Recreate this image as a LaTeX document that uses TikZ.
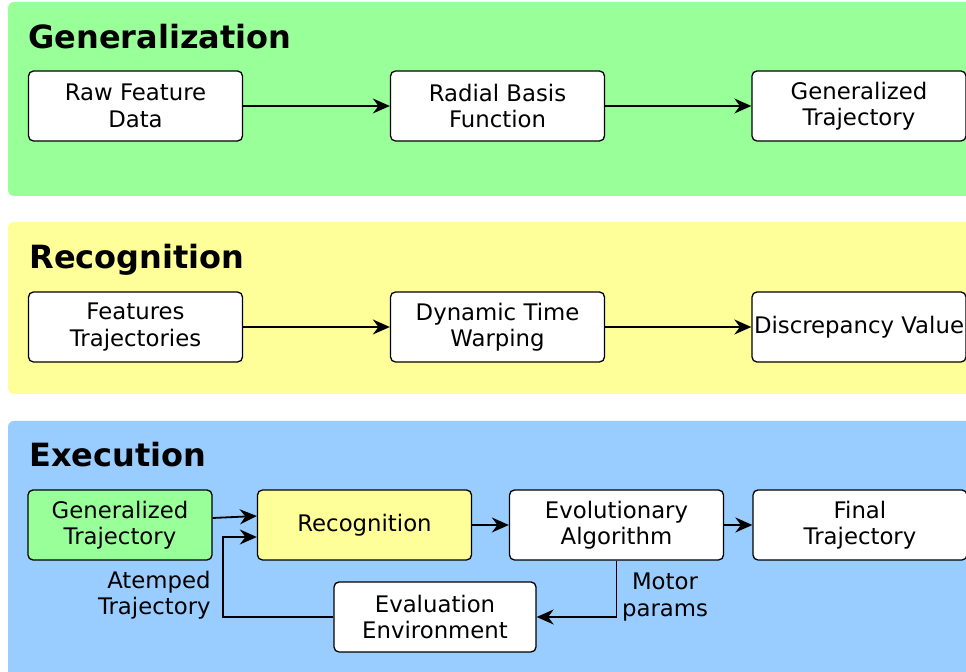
\documentclass[tikz,border=0pt]{standalone}
\usepackage{fontspec}
\setmainfont{DejaVu Sans}
\usetikzlibrary{positioning,arrows.meta}

\definecolor{genGreen}{RGB}{153,255,153}
\definecolor{recYellow}{RGB}{255,255,153}
\definecolor{exeBlue}{RGB}{153,204,255}

\begin{document}
\begin{tikzpicture}[
  x=0.5pt,y=-0.5pt,
  font=\fontsize{11.4}{13.2}\selectfont,
  >={Stealth[length=8.5pt,width=7.5pt]},
  panel/.style={rounded corners=3pt},
  title/.style={font=\fontsize{16}{19}\selectfont\bfseries,anchor=base west,inner sep=0pt},
  blk/.style={draw,rounded corners=2.5pt,fill=white,minimum width=107pt,minimum height=35pt,
              align=center,inner sep=1pt,line width=0.65pt},
  flow/.style={->,line width=0.9pt},
  lbl/.style={align=center,inner sep=0pt},
]
\useasboundingbox (0,0) rectangle (966,672);
\clip (0,0) rectangle (966,672);

% ===== panels =====
\fill[panel,genGreen]  (8,2)   rectangle (1000,196);
\fill[panel,recYellow] (8,222) rectangle (1000,394);
\fill[panel,exeBlue]   (8,421) rectangle (1000,700);

% ===== Generalization =====
\node[title] (genT) at (28,49) {Generalization};
\node[blk] (raw) at (135.5,106) {Raw Feature\\Data};
\node[blk] (rbf) at (497.5,106) {Radial Basis\\Function};
\node[blk] (gtraj) at (859,106) {Generalized\\Trajectory};
\draw[flow] (raw) -- (rbf);
\draw[flow] (rbf) -- (gtraj);

% ===== Recognition =====
\node[title] (recT) at (29,269) {Recognition};
\node[blk] (feat) at (135.5,327) {Features\\Trajectories};
\node[blk] (dtw) at (497.5,327) {Dynamic Time\\Warping};
\node[blk] (disc) at (859,327) {Discrepancy Value};
\draw[flow] (feat) -- (dtw);
\draw[flow] (dtw) -- (disc);

% ===== Execution =====
\node[title] (exeT) at (29,467) {Execution};
\node[blk,fill=genGreen,minimum width=92pt] (xgen) at (120,525) {Generalized\\Trajectory};
\node[blk,fill=recYellow] (xrec) at (364.5,525) {Recognition};
\node[blk] (evo) at (616.5,525) {Evolutionary\\Algorithm};
\node[blk] (final) at (860,525) {Final\\Trajectory};
\node[blk,minimum width=101pt] (env) at (435,617) {Evaluation\\Environment};

\draw[flow] ([yshift=3.5pt]xgen.east) -- ([yshift=4.5pt]xrec.west);
\draw[flow] (xrec) -- (evo);
\draw[flow] (evo) -- (final);
\draw[flow] (evo.south) |- (env.east);
\draw[flow] (env.west) -- ++(-110,0) |- ([yshift=-6pt]xrec.west);

\node[lbl] (motor) at (665,597) {Motor\\params};
\node[lbl,align=right,anchor=east] (atemp) at (211,595) {Atemped\\Trajectory};
\end{tikzpicture}
\end{document}
